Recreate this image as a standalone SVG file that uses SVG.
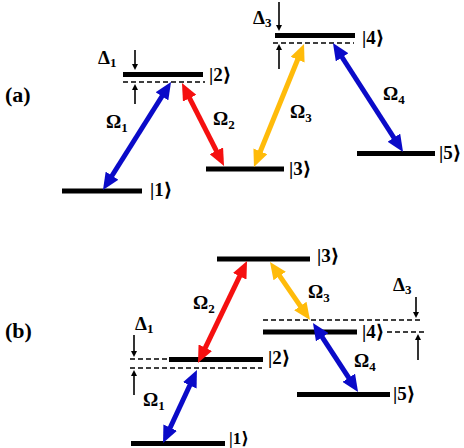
<svg xmlns="http://www.w3.org/2000/svg" width="464" height="448" viewBox="0 0 464 448">
<style>
.lvl{fill:#000}
.dash{stroke:#000;stroke-width:1.6;stroke-dasharray:5 3;fill:none}
.t{font-family:"Liberation Serif","DejaVu Serif",serif;font-size:19px;font-weight:bold;fill:#000}
.lab{font-family:"Liberation Serif","DejaVu Serif",serif;font-size:22px;font-weight:bold;fill:#000}
.sub{font-size:13px}
.blue{stroke:#0a0ac8;stroke-width:5;fill:none}
.red{stroke:#f51010;stroke-width:5;fill:none}
.yel{stroke:#ffbb0a;stroke-width:5;fill:none}
.small{stroke:#000;stroke-width:1.6;fill:none}
</style>
<defs>
<marker id="hb" markerUnits="userSpaceOnUse" markerWidth="17" markerHeight="15" viewBox="0 0 17 15" refX="1" refY="7.5" orient="auto-start-reverse"><path d="M0,0 L17,7.5 L0,15 z" fill="#0a0ac8"/></marker>
<marker id="hr" markerUnits="userSpaceOnUse" markerWidth="17" markerHeight="15" viewBox="0 0 17 15" refX="1" refY="7.5" orient="auto-start-reverse"><path d="M0,0 L17,7.5 L0,15 z" fill="#f51010"/></marker>
<marker id="hy" markerUnits="userSpaceOnUse" markerWidth="17" markerHeight="15" viewBox="0 0 17 15" refX="1" refY="7.5" orient="auto-start-reverse"><path d="M0,0 L17,7.5 L0,15 z" fill="#ffbb0a"/></marker>
<marker id="hs" markerUnits="userSpaceOnUse" markerWidth="6" markerHeight="6" viewBox="0 0 6 6" refX="1" refY="3" orient="auto"><path d="M0,0 L6,3 L0,6 z" fill="#000"/></marker>
</defs>

<text class="lab" x="5" y="102">(a)</text>
<text class="lab" x="5" y="338">(b)</text>

<!-- (a) levels -->
<g id="a1"><rect class="lvl" x="62" y="188.5" width="80" height="5"/><text class="t" x="150" y="196">|1⟩</text></g>
<g id="a2"><rect class="lvl" x="123" y="72" width="80" height="5"/><line class="dash" x1="123" y1="82" x2="205" y2="82"/><text class="t" x="209" y="81">|2⟩</text></g>
<g id="a3"><rect class="lvl" x="206" y="166.5" width="78" height="5"/><text class="t" x="289" y="175">|3⟩</text></g>
<g id="a4"><rect class="lvl" x="275" y="33" width="80" height="5"/><line class="dash" x1="273" y1="43" x2="354" y2="43"/><text class="t" x="362" y="44">|4⟩</text></g>
<g id="a5"><rect class="lvl" x="357" y="151" width="78" height="5"/><text class="t" x="439" y="159">|5⟩</text></g>

<!-- (b) levels -->
<g id="b1"><rect class="lvl" x="131" y="441" width="94" height="5"/><text class="t" x="229" y="444" style="font-size:17px">|1⟩</text></g>
<g id="b2"><rect class="lvl" x="169" y="357" width="94" height="5"/><line class="dash" x1="130" y1="359" x2="168" y2="359"/><line class="dash" x1="130" y1="368" x2="262" y2="368"/><text class="t" x="268" y="364">|2⟩</text></g>
<g id="b3"><rect class="lvl" x="217" y="256.5" width="93" height="5"/><text class="t" x="317" y="262">|3⟩</text></g>
<g id="b4"><rect class="lvl" x="263" y="329.5" width="94" height="5"/><line class="dash" x1="263" y1="320" x2="423" y2="320"/><line class="dash" x1="387" y1="332" x2="427" y2="332"/><text class="t" x="362" y="338">|4⟩</text></g>
<g id="b5"><rect class="lvl" x="297" y="392" width="93" height="5"/><text class="t" x="393" y="400">|5⟩</text></g>

<g id="connectors">
<line class="blue" x1="111.5" y1="176.5" x2="162.5" y2="95.5" marker-start="url(#hb)" marker-end="url(#hb)"/>
<line class="red" x1="189.2" y1="97.3" x2="216.8" y2="151.7" marker-start="url(#hr)" marker-end="url(#hr)"/>
<line class="yel" x1="260" y1="152.2" x2="298" y2="58.8" marker-start="url(#hy)" marker-end="url(#hy)"/>
<line class="blue" x1="341.6" y1="56.5" x2="394.4" y2="138.5" marker-start="url(#hb)" marker-end="url(#hb)"/>

<line class="red" x1="204.9" y1="348.6" x2="240.1" y2="275.4" marker-start="url(#hr)" marker-end="url(#hr)"/>
<line class="blue" x1="190.2" y1="384.5" x2="169.8" y2="428.5" marker-start="url(#hb)" marker-end="url(#hb)"/>
<line class="yel" x1="279.1" y1="275.2" x2="300.9" y2="306.8" marker-start="url(#hy)" marker-end="url(#hy)"/>
<line class="blue" x1="321.7" y1="336.4" x2="349.3" y2="378.6" marker-start="url(#hb)" marker-end="url(#hb)"/>

<line class="small" x1="135" y1="50" x2="135" y2="65" marker-end="url(#hs)"/>
<line class="small" x1="135" y1="104" x2="135" y2="89" marker-end="url(#hs)"/>
<line class="small" x1="279" y1="2" x2="279" y2="26" marker-end="url(#hs)"/>
<line class="small" x1="279" y1="69" x2="279" y2="49" marker-end="url(#hs)"/>
<line class="small" x1="134" y1="335" x2="134" y2="352" marker-end="url(#hs)"/>
<line class="small" x1="134" y1="395" x2="134" y2="375" marker-end="url(#hs)"/>
<line class="small" x1="416" y1="297" x2="416" y2="313" marker-end="url(#hs)"/>
<line class="small" x1="418" y1="360" x2="418" y2="339" marker-end="url(#hs)"/>
</g>

<!-- labels -->
<text class="t" x="98" y="64">Δ<tspan class="sub" dy="3">1</tspan></text>
<text class="t" x="253" y="24">Δ<tspan class="sub" dy="3">3</tspan></text>
<text class="t" x="106" y="128">Ω<tspan class="sub" dy="4">1</tspan></text>
<text class="t" x="213" y="125">Ω<tspan class="sub" dy="4">2</tspan></text>
<text class="t" x="290" y="118">Ω<tspan class="sub" dy="4">3</tspan></text>
<text class="t" x="383" y="100">Ω<tspan class="sub" dy="4">4</tspan></text>

<text class="t" x="135" y="330">Δ<tspan class="sub" dy="3">1</tspan></text>
<text class="t" x="393" y="291">Δ<tspan class="sub" dy="3">3</tspan></text>
<text class="t" x="193" y="309">Ω<tspan class="sub" dy="4">2</tspan></text>
<text class="t" x="143" y="406">Ω<tspan class="sub" dy="4">1</tspan></text>
<text class="t" x="308" y="298">Ω<tspan class="sub" dy="4">3</tspan></text>
<text class="t" x="354" y="367">Ω<tspan class="sub" dy="4">4</tspan></text>
</svg>
